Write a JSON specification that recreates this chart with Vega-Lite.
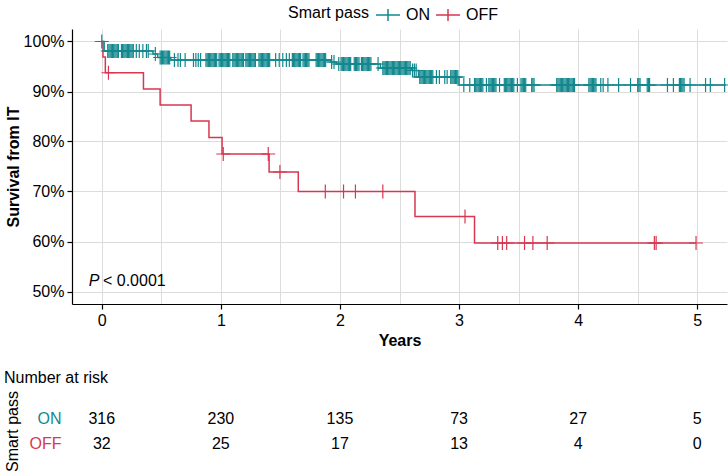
{
 "$schema": "https://vega.github.io/schema/vega-lite/v6.json",
 "background": "white",
 "padding": {"left": 4, "top": 2, "right": 0, "bottom": 0},
 "spacing": 21,
 "config": {
  "font": "Liberation Sans",
  "view": {"stroke": null},
  "axis": {"labelFont": "Liberation Sans", "titleFont": "Liberation Sans", "labelColor": "#000", "titleColor": "#000", "domainColor": "#000", "gridColor": "#dcdcdc", "gridWidth": 1, "labelFontSize": 16, "titleFontSize": 16},
  "legend": {"labelFont": "Liberation Sans", "titleFont": "Liberation Sans", "labelFontSize": 16, "titleFontSize": 16, "titleFontWeight": "normal", "labelColor": "#000", "titleColor": "#000"},
  "title": {"font": "Liberation Sans", "color": "#000"}
 },
 "datasets": {
  "steps": [
   {"g":"ON","t":0,"s":100},{"g":"ON","t":0.02,"s":98.1},{"g":"ON","t":0.43,"s":97.5},{"g":"ON","t":0.47,"s":96.8},{"g":"ON","t":0.58,"s":96.3},{"g":"ON","t":1.92,"s":95.9},{"g":"ON","t":1.97,"s":95.5},{"g":"ON","t":2.34,"s":94.7},{"g":"ON","t":2.6,"s":94.2},{"g":"ON","t":2.66,"s":92.9},{"g":"ON","t":3.0,"s":91.3},{"g":"ON","t":5.24,"s":91.3},
   {"g":"OFF","t":0,"s":100},{"g":"OFF","t":0.01,"s":96.9},{"g":"OFF","t":0.03,"s":93.75},{"g":"OFF","t":0.35,"s":90.5},{"g":"OFF","t":0.49,"s":87.3},{"g":"OFF","t":0.75,"s":84.1},{"g":"OFF","t":0.9,"s":80.8},{"g":"OFF","t":1.01,"s":77.5},{"g":"OFF","t":1.405,"s":73.9},{"g":"OFF","t":1.65,"s":70.0},{"g":"OFF","t":2.63,"s":65.0},{"g":"OFF","t":3.13,"s":59.7},{"g":"OFF","t":4.99,"s":59.7}
  ],
  "censor": [
   {"g":"ON","t":0.0,"s":100},
   {"g":"ON","t":0.05,"s":98.1},{"g":"ON","t":0.06,"s":98.1},{"g":"ON","t":0.07,"s":98.1},{"g":"ON","t":0.08,"s":98.1},{"g":"ON","t":0.09,"s":98.1},{"g":"ON","t":0.10,"s":98.1},{"g":"ON","t":0.11,"s":98.1},{"g":"ON","t":0.12,"s":98.1},{"g":"ON","t":0.13,"s":98.1},{"g":"ON","t":0.14,"s":98.1},
   {"g":"ON","t":0.165,"s":98.1},{"g":"ON","t":0.175,"s":98.1},{"g":"ON","t":0.185,"s":98.1},{"g":"ON","t":0.195,"s":98.1},{"g":"ON","t":0.205,"s":98.1},{"g":"ON","t":0.215,"s":98.1},{"g":"ON","t":0.225,"s":98.1},{"g":"ON","t":0.235,"s":98.1},{"g":"ON","t":0.245,"s":98.1},{"g":"ON","t":0.255,"s":98.1},{"g":"ON","t":0.265,"s":98.1},
   {"g":"ON","t":0.29,"s":98.1},{"g":"ON","t":0.315,"s":98.1},{"g":"ON","t":0.345,"s":98.1},{"g":"ON","t":0.375,"s":98.1},{"g":"ON","t":0.39,"s":98.1},
   {"g":"ON","t":0.45,"s":97.5},
   {"g":"ON","t":0.49,"s":96.8},{"g":"ON","t":0.50,"s":96.8},{"g":"ON","t":0.51,"s":96.8},{"g":"ON","t":0.52,"s":96.8},{"g":"ON","t":0.53,"s":96.8},{"g":"ON","t":0.54,"s":96.8},{"g":"ON","t":0.55,"s":96.8},{"g":"ON","t":0.56,"s":96.8},{"g":"ON","t":0.57,"s":96.8},
   {"g":"ON","t":0.61,"s":96.3},{"g":"ON","t":0.64,"s":96.3},{"g":"ON","t":0.66,"s":96.3},{"g":"ON","t":0.70,"s":96.3},{"g":"ON","t":0.77,"s":96.3},{"g":"ON","t":0.79,"s":96.3},{"g":"ON","t":0.81,"s":96.3},{"g":"ON","t":0.83,"s":96.3},
   {"g":"ON","t":0.875,"s":96.3},{"g":"ON","t":0.885,"s":96.3},{"g":"ON","t":0.895,"s":96.3},{"g":"ON","t":0.905,"s":96.3},{"g":"ON","t":0.915,"s":96.3},{"g":"ON","t":0.925,"s":96.3},{"g":"ON","t":0.935,"s":96.3},{"g":"ON","t":0.945,"s":96.3},{"g":"ON","t":0.955,"s":96.3},{"g":"ON","t":0.965,"s":96.3},
   {"g":"ON","t":0.985,"s":96.3},{"g":"ON","t":0.995,"s":96.3},{"g":"ON","t":1.005,"s":96.3},{"g":"ON","t":1.015,"s":96.3},{"g":"ON","t":1.025,"s":96.3},{"g":"ON","t":1.035,"s":96.3},{"g":"ON","t":1.045,"s":96.3},{"g":"ON","t":1.055,"s":96.3},{"g":"ON","t":1.065,"s":96.3},{"g":"ON","t":1.075,"s":96.3},
   {"g":"ON","t":1.10,"s":96.3},{"g":"ON","t":1.11,"s":96.3},{"g":"ON","t":1.12,"s":96.3},{"g":"ON","t":1.13,"s":96.3},{"g":"ON","t":1.14,"s":96.3},{"g":"ON","t":1.15,"s":96.3},{"g":"ON","t":1.16,"s":96.3},{"g":"ON","t":1.17,"s":96.3},{"g":"ON","t":1.18,"s":96.3},{"g":"ON","t":1.19,"s":96.3},
   {"g":"ON","t":1.21,"s":96.3},{"g":"ON","t":1.22,"s":96.3},{"g":"ON","t":1.23,"s":96.3},{"g":"ON","t":1.24,"s":96.3},{"g":"ON","t":1.25,"s":96.3},{"g":"ON","t":1.26,"s":96.3},{"g":"ON","t":1.27,"s":96.3},{"g":"ON","t":1.28,"s":96.3},{"g":"ON","t":1.29,"s":96.3},
   {"g":"ON","t":1.32,"s":96.3},{"g":"ON","t":1.33,"s":96.3},{"g":"ON","t":1.34,"s":96.3},{"g":"ON","t":1.35,"s":96.3},{"g":"ON","t":1.36,"s":96.3},{"g":"ON","t":1.37,"s":96.3},{"g":"ON","t":1.38,"s":96.3},{"g":"ON","t":1.39,"s":96.3},{"g":"ON","t":1.40,"s":96.3},{"g":"ON","t":1.41,"s":96.3},
   {"g":"ON","t":1.46,"s":96.3},{"g":"ON","t":1.49,"s":96.3},{"g":"ON","t":1.52,"s":96.3},{"g":"ON","t":1.55,"s":96.3},{"g":"ON","t":1.575,"s":96.3},
   {"g":"ON","t":1.60,"s":96.3},{"g":"ON","t":1.61,"s":96.3},{"g":"ON","t":1.62,"s":96.3},{"g":"ON","t":1.63,"s":96.3},{"g":"ON","t":1.64,"s":96.3},{"g":"ON","t":1.65,"s":96.3},{"g":"ON","t":1.66,"s":96.3},{"g":"ON","t":1.67,"s":96.3},
   {"g":"ON","t":1.69,"s":96.3},{"g":"ON","t":1.70,"s":96.3},{"g":"ON","t":1.71,"s":96.3},{"g":"ON","t":1.72,"s":96.3},{"g":"ON","t":1.73,"s":96.3},{"g":"ON","t":1.74,"s":96.3},
   {"g":"ON","t":1.80,"s":96.3},{"g":"ON","t":1.81,"s":96.3},{"g":"ON","t":1.82,"s":96.3},{"g":"ON","t":1.83,"s":96.3},{"g":"ON","t":1.84,"s":96.3},{"g":"ON","t":1.85,"s":96.3},{"g":"ON","t":1.86,"s":96.3},{"g":"ON","t":1.87,"s":96.3},{"g":"ON","t":1.88,"s":96.3},
   {"g":"ON","t":1.93,"s":95.9},{"g":"ON","t":1.95,"s":95.9},
   {"g":"ON","t":1.99,"s":95.5},
   {"g":"ON","t":2.01,"s":95.5},{"g":"ON","t":2.02,"s":95.5},{"g":"ON","t":2.03,"s":95.5},{"g":"ON","t":2.04,"s":95.5},{"g":"ON","t":2.05,"s":95.5},{"g":"ON","t":2.06,"s":95.5},{"g":"ON","t":2.07,"s":95.5},{"g":"ON","t":2.08,"s":95.5},{"g":"ON","t":2.09,"s":95.5},
   {"g":"ON","t":2.12,"s":95.5},{"g":"ON","t":2.13,"s":95.5},{"g":"ON","t":2.14,"s":95.5},{"g":"ON","t":2.15,"s":95.5},{"g":"ON","t":2.16,"s":95.5},
   {"g":"ON","t":2.18,"s":95.5},{"g":"ON","t":2.19,"s":95.5},{"g":"ON","t":2.20,"s":95.5},{"g":"ON","t":2.21,"s":95.5},{"g":"ON","t":2.22,"s":95.5},{"g":"ON","t":2.23,"s":95.5},{"g":"ON","t":2.24,"s":95.5},{"g":"ON","t":2.25,"s":95.5},{"g":"ON","t":2.26,"s":95.5},
   {"g":"ON","t":2.32,"s":95.5},
   {"g":"ON","t":2.36,"s":94.7},{"g":"ON","t":2.37,"s":94.7},{"g":"ON","t":2.38,"s":94.7},{"g":"ON","t":2.39,"s":94.7},{"g":"ON","t":2.40,"s":94.7},{"g":"ON","t":2.41,"s":94.7},{"g":"ON","t":2.42,"s":94.7},{"g":"ON","t":2.43,"s":94.7},{"g":"ON","t":2.44,"s":94.7},{"g":"ON","t":2.45,"s":94.7},{"g":"ON","t":2.46,"s":94.7},{"g":"ON","t":2.47,"s":94.7},{"g":"ON","t":2.48,"s":94.7},{"g":"ON","t":2.49,"s":94.7},{"g":"ON","t":2.50,"s":94.7},{"g":"ON","t":2.51,"s":94.7},{"g":"ON","t":2.52,"s":94.7},{"g":"ON","t":2.53,"s":94.7},{"g":"ON","t":2.54,"s":94.7},{"g":"ON","t":2.55,"s":94.7},{"g":"ON","t":2.56,"s":94.7},{"g":"ON","t":2.57,"s":94.7},{"g":"ON","t":2.58,"s":94.7},{"g":"ON","t":2.59,"s":94.7},
   {"g":"ON","t":2.61,"s":94.2},{"g":"ON","t":2.625,"s":94.2},{"g":"ON","t":2.64,"s":94.2},
   {"g":"ON","t":2.67,"s":92.9},{"g":"ON","t":2.68,"s":92.9},{"g":"ON","t":2.69,"s":92.9},{"g":"ON","t":2.70,"s":92.9},{"g":"ON","t":2.71,"s":92.9},{"g":"ON","t":2.72,"s":92.9},{"g":"ON","t":2.73,"s":92.9},{"g":"ON","t":2.74,"s":92.9},{"g":"ON","t":2.75,"s":92.9},{"g":"ON","t":2.76,"s":92.9},{"g":"ON","t":2.77,"s":92.9},{"g":"ON","t":2.78,"s":92.9},
   {"g":"ON","t":2.81,"s":92.9},{"g":"ON","t":2.835,"s":92.9},{"g":"ON","t":2.88,"s":92.9},{"g":"ON","t":2.90,"s":92.9},
   {"g":"ON","t":2.93,"s":92.9},{"g":"ON","t":2.94,"s":92.9},{"g":"ON","t":2.95,"s":92.9},{"g":"ON","t":2.96,"s":92.9},{"g":"ON","t":2.97,"s":92.9},{"g":"ON","t":2.98,"s":92.9},{"g":"ON","t":2.99,"s":92.9},
   {"g":"ON","t":3.04,"s":91.3},{"g":"ON","t":3.09,"s":91.3},
   {"g":"ON","t":3.13,"s":91.3},{"g":"ON","t":3.14,"s":91.3},{"g":"ON","t":3.15,"s":91.3},{"g":"ON","t":3.16,"s":91.3},{"g":"ON","t":3.17,"s":91.3},{"g":"ON","t":3.18,"s":91.3},{"g":"ON","t":3.19,"s":91.3},{"g":"ON","t":3.20,"s":91.3},
   {"g":"ON","t":3.23,"s":91.3},
   {"g":"ON","t":3.25,"s":91.3},{"g":"ON","t":3.26,"s":91.3},{"g":"ON","t":3.27,"s":91.3},{"g":"ON","t":3.28,"s":91.3},{"g":"ON","t":3.29,"s":91.3},{"g":"ON","t":3.30,"s":91.3},{"g":"ON","t":3.31,"s":91.3},
   {"g":"ON","t":3.34,"s":91.3},
   {"g":"ON","t":3.38,"s":91.3},{"g":"ON","t":3.39,"s":91.3},{"g":"ON","t":3.40,"s":91.3},{"g":"ON","t":3.41,"s":91.3},{"g":"ON","t":3.42,"s":91.3},{"g":"ON","t":3.43,"s":91.3},{"g":"ON","t":3.44,"s":91.3},{"g":"ON","t":3.45,"s":91.3},{"g":"ON","t":3.46,"s":91.3},
   {"g":"ON","t":3.49,"s":91.3},
   {"g":"ON","t":3.52,"s":91.3},{"g":"ON","t":3.53,"s":91.3},{"g":"ON","t":3.54,"s":91.3},{"g":"ON","t":3.55,"s":91.3},{"g":"ON","t":3.56,"s":91.3},
   {"g":"ON","t":3.61,"s":91.3},{"g":"ON","t":3.62,"s":91.3},{"g":"ON","t":3.63,"s":91.3},
   {"g":"ON","t":3.82,"s":91.3},{"g":"ON","t":3.83,"s":91.3},{"g":"ON","t":3.84,"s":91.3},{"g":"ON","t":3.85,"s":91.3},{"g":"ON","t":3.86,"s":91.3},{"g":"ON","t":3.87,"s":91.3},{"g":"ON","t":3.88,"s":91.3},{"g":"ON","t":3.89,"s":91.3},{"g":"ON","t":3.90,"s":91.3},{"g":"ON","t":3.91,"s":91.3},{"g":"ON","t":3.92,"s":91.3},{"g":"ON","t":3.93,"s":91.3},{"g":"ON","t":3.94,"s":91.3},{"g":"ON","t":3.95,"s":91.3},{"g":"ON","t":3.96,"s":91.3},{"g":"ON","t":3.97,"s":91.3},
   {"g":"ON","t":4.09,"s":91.3},{"g":"ON","t":4.10,"s":91.3},{"g":"ON","t":4.11,"s":91.3},{"g":"ON","t":4.12,"s":91.3},{"g":"ON","t":4.13,"s":91.3},{"g":"ON","t":4.14,"s":91.3},{"g":"ON","t":4.15,"s":91.3},
   {"g":"ON","t":4.19,"s":91.3},{"g":"ON","t":4.21,"s":91.3},{"g":"ON","t":4.25,"s":91.3},{"g":"ON","t":4.34,"s":91.3},{"g":"ON","t":4.44,"s":91.3},
   {"g":"ON","t":4.50,"s":91.3},{"g":"ON","t":4.51,"s":91.3},{"g":"ON","t":4.52,"s":91.3},
   {"g":"ON","t":4.58,"s":91.3},{"g":"ON","t":4.59,"s":91.3},{"g":"ON","t":4.60,"s":91.3},
   {"g":"ON","t":4.75,"s":91.3},{"g":"ON","t":4.80,"s":91.3},
   {"g":"ON","t":4.85,"s":91.3},{"g":"ON","t":4.86,"s":91.3},{"g":"ON","t":4.87,"s":91.3},{"g":"ON","t":4.88,"s":91.3},{"g":"ON","t":4.89,"s":91.3},
   {"g":"ON","t":4.94,"s":91.3},{"g":"ON","t":5.07,"s":91.3},{"g":"ON","t":5.11,"s":91.3},{"g":"ON","t":5.23,"s":91.3},
   {"g":"OFF","t":0.056,"s":93.75},
   {"g":"OFF","t":1.02,"s":77.5},{"g":"OFF","t":1.398,"s":77.5},
   {"g":"OFF","t":1.496,"s":73.9},
   {"g":"OFF","t":1.877,"s":70.0},{"g":"OFF","t":2.03,"s":70.0},{"g":"OFF","t":2.13,"s":70.0},{"g":"OFF","t":2.36,"s":70.0},
   {"g":"OFF","t":3.05,"s":65.0},
   {"g":"OFF","t":3.325,"s":59.7},{"g":"OFF","t":3.364,"s":59.7},{"g":"OFF","t":3.40,"s":59.7},{"g":"OFF","t":3.55,"s":59.7},{"g":"OFF","t":3.62,"s":59.7},{"g":"OFF","t":3.74,"s":59.7},{"g":"OFF","t":4.64,"s":59.7},{"g":"OFF","t":4.655,"s":59.7},{"g":"OFF","t":4.99,"s":59.7}
  ],
  "notes": [
   {"part":"p","t":-0.11,"s":52.2,"label":"P"},
   {"part":"rest","t":0.01,"s":52.2,"label":"< 0.0001"}
  ],
  "risk": [
   {"g":"ON","t":0,"n":316},{"g":"ON","t":1,"n":230},{"g":"ON","t":2,"n":135},{"g":"ON","t":3,"n":73},{"g":"ON","t":4,"n":27},{"g":"ON","t":5,"n":5},
   {"g":"OFF","t":0,"n":32},{"g":"OFF","t":1,"n":25},{"g":"OFF","t":2,"n":17},{"g":"OFF","t":3,"n":13},{"g":"OFF","t":4,"n":4},{"g":"OFF","t":5,"n":0}
  ]
 },
 "vconcat": [
  {
   "width": 655,
   "height": 275,
   "layer": [
    {
     "data": {"name": "steps"},
     "mark": {"type": "line", "interpolate": "step-after", "strokeWidth": 1.5},
     "encoding": {
      "x": {"field": "t", "type": "quantitative", "scale": {"domain": [-0.25, 5.25], "nice": false, "zero": false},
            "axis": {"title": "Years", "titleFontWeight": "bold", "values": [0,0.5,1,1.5,2,2.5,3,3.5,4,4.5,5],
                     "labelExpr": "datum.value % 1 == 0 ? format(datum.value, 'd') : ''",
                     "tickColor": {"condition": {"test": "datum.value % 1 != 0", "value": "transparent"}, "value": "#000"},
                     "tickSize": 5, "labelPadding": 3, "domainWidth": 1.2, "tickWidth": 1.2, "titlePadding": 4, "grid": true}},
      "y": {"field": "s", "type": "quantitative", "scale": {"domain": [47.5, 102.5], "nice": false, "zero": false},
            "axis": {"title": "Survival from IT", "titleFontWeight": "bold", "values": [50,55,60,65,70,75,80,85,90,95,100],
                     "labelExpr": "datum.value % 10 == 0 ? datum.value + '%' : ''",
                     "tickColor": {"condition": {"test": "datum.value % 10 != 0", "value": "transparent"}, "value": "#000"},
                     "tickSize": 5, "labelPadding": 3, "domainWidth": 1.2, "tickWidth": 1.2, "titlePadding": 2, "grid": true}},
      "color": {"field": "g", "type": "nominal", "scale": {"domain": ["ON", "OFF"], "range": ["#12888e", "#d73750"]},
                "legend": {"title": "Smart pass", "orient": "none", "legendX": 216, "legendY": -27, "direction": "horizontal", "titleOrient": "left",
                           "symbolType": "M-1,0H1M0,-0.5V0.5", "symbolSize": 576, "symbolStrokeWidth": 1.5, "labelOffset": 5, "columnPadding": 3, "titlePadding": 6}}
     }
    },
    {
     "data": {"name": "censor"},
     "mark": {"type": "point", "shape": "M-1,0H1M0,-1V1", "filled": false, "size": 196, "strokeWidth": 1.2, "opacity": 1},
     "encoding": {
      "x": {"field": "t", "type": "quantitative"},
      "y": {"field": "s", "type": "quantitative"},
      "color": {"field": "g", "type": "nominal",
                "legend": {"title": "Smart pass", "orient": "none", "legendX": 216, "legendY": -27, "direction": "horizontal", "titleOrient": "left",
                           "symbolType": "M-1,0H1M0,-0.5V0.5", "symbolSize": 576, "symbolStrokeWidth": 1.5, "labelOffset": 5, "columnPadding": 3, "titlePadding": 6}}
     }
    },
    {
     "data": {"name": "notes"},
     "transform": [{"filter": "datum.part == 'p'"}],
     "mark": {"type": "text", "align": "left", "baseline": "middle", "fontSize": 16, "fontStyle": "italic", "color": "#000"},
     "encoding": {"x": {"field": "t", "type": "quantitative"}, "y": {"field": "s", "type": "quantitative"}, "text": {"field": "label"}}
    },
    {
     "data": {"name": "notes"},
     "transform": [{"filter": "datum.part == 'rest'"}],
     "mark": {"type": "text", "align": "left", "baseline": "middle", "fontSize": 16, "color": "#000"},
     "encoding": {"x": {"field": "t", "type": "quantitative"}, "y": {"field": "s", "type": "quantitative"}, "text": {"field": "label"}}
    }
   ]
  },
  {
   "width": 655,
   "height": 50,
   "title": {"text": "Number at risk", "anchor": "start", "frame": "bounds", "fontSize": 16, "fontWeight": "normal", "offset": 5},
   "data": {"name": "risk"},
   "mark": {"type": "text", "fontSize": 16, "color": "#000", "baseline": "middle"},
   "encoding": {
    "x": {"field": "t", "type": "quantitative", "scale": {"domain": [-0.25, 5.25], "nice": false, "zero": false}, "axis": null},
    "y": {"field": "g", "type": "nominal", "scale": {"domain": ["ON", "OFF"]},
          "axis": {"title": "Smart pass", "titleFontWeight": "normal", "domain": false, "ticks": false, "grid": false, "labelPadding": 11, "titlePadding": 9,
                   "labelColor": {"condition": {"test": "datum.value == 'ON'", "value": "#12888e"}, "value": "#d73750"}}},
    "text": {"field": "n", "type": "quantitative"}
   }
  }
 ]
}
